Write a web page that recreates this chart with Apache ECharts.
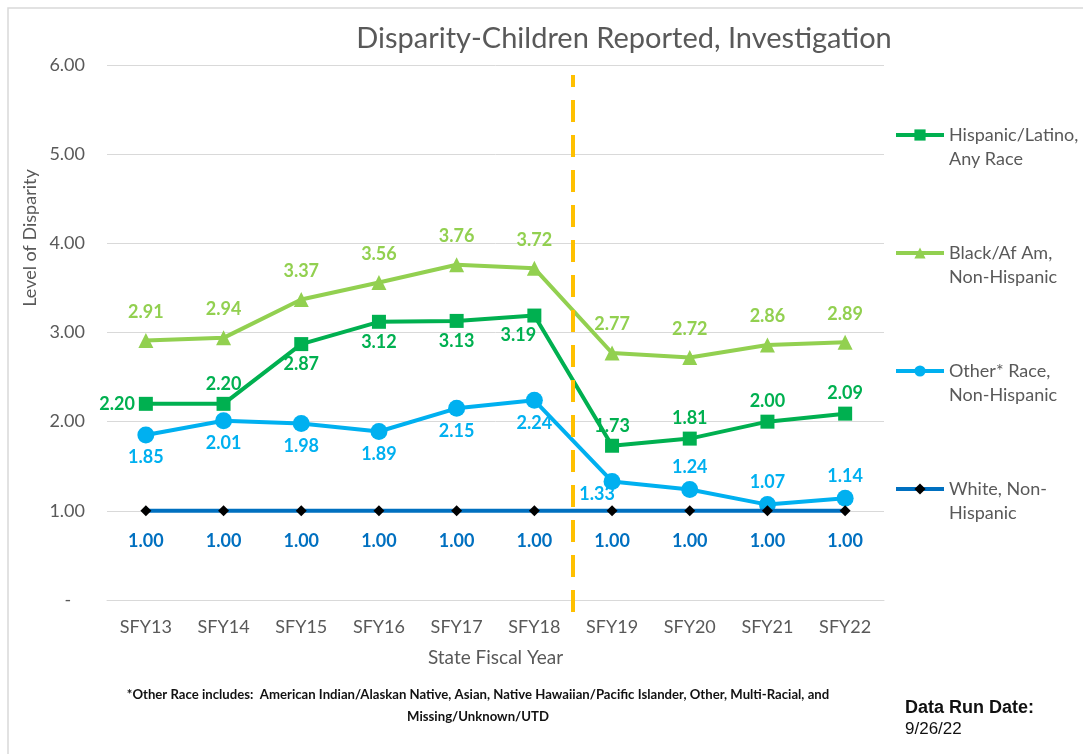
<!DOCTYPE html>
<html>
<head>
<meta charset="utf-8">
<title>Disparity-Children Reported, Investigation</title>
<script src="https://cdn.jsdelivr.net/npm/echarts@6/dist/echarts.min.js"></script>
<style>
  html, body { margin: 0; padding: 0; background: #fff; }
  #chart { width: 1083px; height: 754px; }
</style>
</head>
<body>
<div id="chart"></div>
<script>
// 数据
const years = ['SFY13', 'SFY14', 'SFY15', 'SFY16', 'SFY17', 'SFY18', 'SFY19', 'SFY20', 'SFY21', 'SFY22'];
const hispanic = [2.20, 2.20, 2.87, 3.12, 3.13, 3.19, 1.73, 1.81, 2.00, 2.09];
const black = [2.91, 2.94, 3.37, 3.56, 3.76, 3.72, 2.77, 2.72, 2.86, 2.89];
const other = [1.85, 2.01, 1.98, 1.89, 2.15, 2.24, 1.33, 1.24, 1.07, 1.14];
const white = [1.00, 1.00, 1.00, 1.00, 1.00, 1.00, 1.00, 1.00, 1.00, 1.00];
const yTicks = [0, 1, 2, 3, 4, 5, 6];
const dividerAfter = 'SFY18';

const seriesNames = [
  'Hispanic/Latino,\nAny Race',
  'Black/Af Am,\nNon-Hispanic',
  'Other* Race,\nNon-Hispanic',
  'White, Non-\nHispanic'
];

const font = 'Lato, "Open Sans", sans-serif';
const grey = '#595959';

let myChart = echarts.init(document.getElementById('chart'));

// label placement per point (Excel style)
let hispPos = ['left', 'top', 'bottom', 'bottom', 'bottom', 'bottom', 'top', 'top', 'top', 'top'];
let otherPos = ['bottom', 'bottom', 'bottom', 'bottom', 'bottom', 'bottom', 'bottom', 'top', 'top', 'top'];

function withLabels(values, positions, extra) {
  return values.map((v, i) => {
    let item = { value: v, label: { position: positions[i] } };
    if (extra && extra[i]) Object.assign(item.label, extra[i]);
    return item;
  });
}

function labelStyle(color, distance) {
  return {
    show: true,
    color: color,
    fontFamily: font,
    fontWeight: 'bold',
    fontSize: 18,
    distance: distance,
    formatter: p => Number(p.value).toFixed(2)
  };
}

let dividerX = years.indexOf(dividerAfter) + 1;

let option = {
  animation: false,
  backgroundColor: '#fff',
  title: {
    text: 'Disparity-Children Reported, Investigation',
    left: 619,
    top: 19,
    textAlign: 'center',
    textStyle: {
      color: grey,
      fontFamily: font,
      fontWeight: 'normal',
      fontSize: 29
    }
  },
  legend: {
    orient: 'vertical',
    left: 894,
    top: 99,
    padding: 0,
    itemWidth: 48,
    itemHeight: 14,
    itemGap: 46,
    data: seriesNames,
    lineStyle: { width: 4 },
    // blank first line so the icon sits beside the first text line
    formatter: name => ' \n' + name,
    textStyle: {
      color: grey,
      fontFamily: font,
      fontSize: 18,
      lineHeight: 24
    }
  },
  grid: [{
    left: 107,
    right: 199,
    top: 65,
    bottom: 154
  }, {
    left: 107,
    right: 199,
    top: 75,
    bottom: 142
  }],
  xAxis: [{
    type: 'category',
    gridIndex: 0,
    data: years,
    name: 'State Fiscal Year',
    nameLocation: 'middle',
    nameGap: 48,
    nameTextStyle: { color: grey, fontFamily: font, fontSize: 19 },
    axisTick: { show: false },
    axisLine: { show: true, lineStyle: { color: '#d9d9d9', width: 1 } },
    axisLabel: { color: grey, fontFamily: font, fontSize: 18, margin: 18 }
  }, {
    type: 'value',
    gridIndex: 1,
    min: 0,
    max: years.length,
    show: false
  }],
  yAxis: [{
    type: 'value',
    gridIndex: 0,
    min: yTicks[0],
    max: yTicks[yTicks.length - 1],
    interval: 1,
    axisTick: { show: false },
    axisLine: { show: false },
    splitLine: { lineStyle: { color: '#d9d9d9', width: 1 } },
    axisLabel: {
      color: grey,
      fontFamily: font,
      fontSize: 18,
      margin: 22,
      formatter: v => v === 0 ? '-   ' : v.toFixed(2)
    }
  }, {
    type: 'value',
    gridIndex: 1,
    min: 0,
    max: 1,
    show: false
  }],
  graphic: [{
    type: 'polyline',
    shape: { points: [[8, 754], [8, 8], [1083, 8]] },
    style: { stroke: '#d9d9d9', lineWidth: 1.5, fill: null },
    silent: true
  }, {
    type: 'text',
    x: 30,
    y: 238,
    rotation: Math.PI / 2,
    style: {
      text: 'Level of Disparity',
      fill: grey,
      font: '18px ' + font,
      align: 'center',
      verticalAlign: 'middle'
    }
  }, {
    type: 'text',
    x: 478,
    y: 705,
    scaleX: 0.94,
    style: {
      text: '*Other Race includes:  American Indian/Alaskan Native, Asian, Native Hawaiian/Pacific Islander, Other, Multi-Racial, and\nMissing/Unknown/UTD',
      fill: '#111',
      font: 'bold 14px ' + font,
      lineHeight: 22,
      align: 'center',
      verticalAlign: 'middle'
    }
  }, {
    type: 'text',
    x: 905,
    y: 708,
    style: {
      text: 'Data Run Date:',
      fill: '#111',
      font: 'bold 18px "Liberation Sans", Arial, sans-serif',
      verticalAlign: 'middle'
    }
  }, {
    type: 'text',
    x: 905,
    y: 729,
    style: {
      text: '9/26/22',
      fill: '#111',
      font: '17px "Liberation Sans", Arial, sans-serif',
      verticalAlign: 'middle'
    }
  }],
  series: [{
    name: seriesNames[0],
    type: 'line',
    data: withLabels(hispanic, hispPos, { 5: { offset: [-16, 0] } }),
    symbol: 'rect',
    symbolSize: 14,
    color: '#00B050',
    lineStyle: { color: '#00B050', width: 4 },
    itemStyle: { color: '#00B050' },
    label: labelStyle('#00B050', 4),
    z: 3
  }, {
    name: seriesNames[1],
    type: 'line',
    data: black,
    symbol: 'triangle',
    symbolSize: 15,
    color: '#92D050',
    lineStyle: { color: '#92D050', width: 4 },
    itemStyle: { color: '#92D050' },
    label: Object.assign(labelStyle('#92D050', 12), { position: 'top' }),
    z: 2
  }, {
    name: seriesNames[2],
    type: 'line',
    data: withLabels(other, otherPos, { 6: { offset: [-15, -10] } }),
    symbol: 'circle',
    symbolSize: 17,
    color: '#00B0F0',
    lineStyle: { color: '#00B0F0', width: 4 },
    itemStyle: { color: '#00B0F0' },
    label: labelStyle('#00B0F0', 5),
    z: 4
  }, {
    name: seriesNames[3],
    type: 'line',
    data: white,
    symbol: 'diamond',
    symbolSize: 11,
    color: '#0070C0',
    lineStyle: { color: '#0070C0', width: 4 },
    itemStyle: { color: '#000' },
    label: Object.assign(labelStyle('#0070C0', 16), { position: 'bottom' }),
    z: 5
  }, {
    // dashed divider between SFY18 and SFY19
    type: 'line',
    xAxisIndex: 1,
    yAxisIndex: 1,
    data: [],
    silent: true,
    markLine: {
      symbol: ['none', 'none'],
      label: { show: false },
      lineStyle: { color: '#FFC000', width: 4, type: [22, 13] },
      data: [{ xAxis: dividerX }]
    },
    z: 1
  }]
};

myChart.setOption(option);

window.addEventListener('resize', () => {
  myChart.resize();
});
</script>
</body>
</html>
